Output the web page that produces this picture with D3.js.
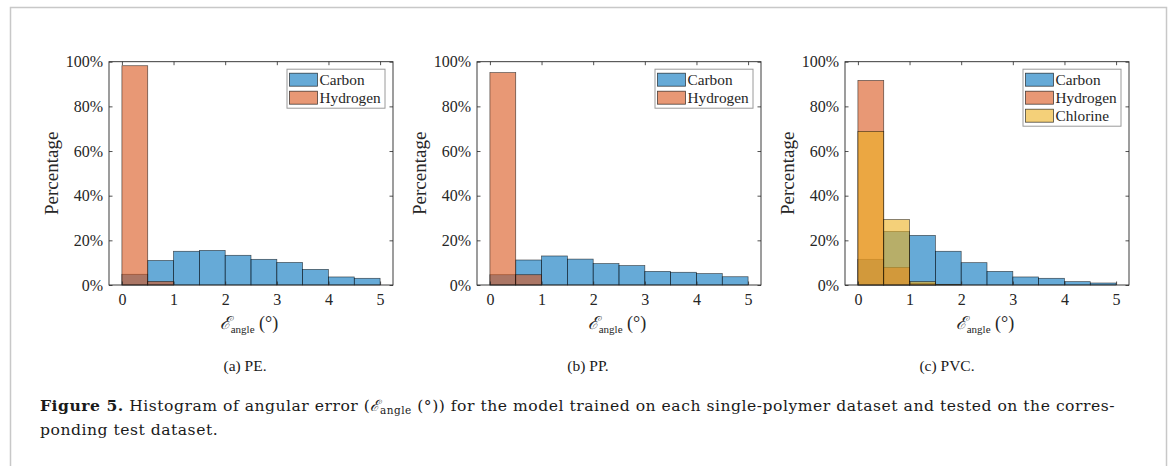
<!DOCTYPE html>
<html><head><meta charset="utf-8">
<script src="https://cdn.jsdelivr.net/npm/d3@7"></script>
<style>
html,body{margin:0;padding:0;background:#fff;}
svg{display:block;}
</style></head>
<body>
<svg id="fig" width="1170" height="466"></svg>
<script>
// ---- data ----
const binEdges = [0, 0.5, 1, 1.5, 2, 2.5, 3, 3.5, 4, 4.5, 5];
const xTicks = [0, 1, 2, 3, 4, 5];
const yTicks = [0, 20, 40, 60, 80, 100];
const yTickLabels = ["0%", "20%", "40%", "60%", "80%", "100%"];
const seriesNames = ["Carbon", "Hydrogen", "Chlorine"];
const seriesColors = ["#0072BD", "#D95319", "#EDB120"];

const peCarbon   = [4.8, 11.0, 15.1, 15.5, 13.3, 11.5, 10.1, 7.0, 3.6, 3.0];
const peHydrogen = [98.2, 1.6, 0, 0, 0, 0, 0, 0, 0, 0];
const ppCarbon   = [4.6, 11.2, 13.0, 11.6, 9.6, 8.7, 6.1, 5.7, 5.1, 3.7];
const ppHydrogen = [95.1, 4.6, 0, 0, 0, 0, 0, 0, 0, 0];
const pvcCarbon   = [11.5, 24.0, 22.2, 15.1, 10.0, 6.1, 3.6, 3.0, 1.5, 0.9];
const pvcHydrogen = [91.6, 7.8, 0.6, 0, 0, 0, 0, 0, 0, 0];
const pvcChlorine = [68.8, 29.3, 1.5, 0.3, 0, 0, 0, 0, 0, 0];

const subCaptions = ["(a) PE.", "(b) PP.", "(c) PVC."];
const panels = [
  {series: [peCarbon, peHydrogen], caption: subCaptions[0]},
  {series: [ppCarbon, ppHydrogen], caption: subCaptions[1]},
  {series: [pvcCarbon, pvcHydrogen, pvcChlorine], caption: subCaptions[2]}
];

// ---- layout ----
const svg = d3.select("#fig");
const axisColor = "#262626";
const serif = "'Liberation Serif', 'Times New Roman', serif";
const capFont = "'DejaVu Serif', serif";
const panelLeft = [109, 477, 845];
const panelW = 284, panelTop = 61.7, panelH = 223.3;
const capCenters = [245, 588, 947];

// outer frame
svg.append("rect").attr("x", 10.5).attr("y", 7.5).attr("width", 1156).attr("height", 470)
  .attr("fill", "none").attr("stroke", "#c8c8c8").attr("stroke-width", 1.5);

panels.forEach((p, pi) => {
  const g = svg.append("g").attr("transform", `translate(${panelLeft[pi]},${panelTop})`);
  const x = d3.scaleLinear().domain([-0.25, 5.25]).range([0, panelW]);
  const y = d3.scaleLinear().domain([0, 100]).range([panelH, 0]);

  // bars
  p.series.forEach((vals, si) => {
    const bins = vals.map((v, i) => ({x0: binEdges[i], x1: binEdges[i + 1], v}))
      .filter(d => d.v > 0);
    g.append("g").selectAll("rect").data(bins).join("rect")
      .attr("x", d => x(d.x0))
      .attr("y", d => y(d.v))
      .attr("width", d => x(d.x1) - x(d.x0))
      .attr("height", d => y(0) - y(d.v))
      .attr("fill", seriesColors[si])
      .attr("fill-opacity", 0.6)
      .attr("stroke", "#000")
      .attr("stroke-opacity", 0.65)
      .attr("stroke-width", 0.7);
  });

  // axes with inward ticks
  const tickLen = 3.5;
  const axB = d3.axisBottom(x).tickValues(xTicks).tickSize(-tickLen).tickPadding(9).tickFormat(d3.format("d"));
  const axT = d3.axisTop(x).tickValues(xTicks).tickSize(-tickLen).tickFormat("");
  const axL = d3.axisLeft(y).tickValues(yTicks).tickSize(-tickLen).tickPadding(6).tickFormat((d, i) => yTickLabels[i]);
  const axR = d3.axisRight(y).tickValues(yTicks).tickSize(-tickLen).tickFormat("");
  const styleAx = sel => {
    sel.attr("font-family", serif).attr("font-size", 16);
    sel.select(".domain").remove();
    sel.selectAll("line").attr("stroke", axisColor).attr("stroke-width", 0.8);
    sel.selectAll("text").attr("fill", axisColor).style("font-family", serif).style("font-size", "16px");
  };
  g.append("g").attr("transform", `translate(0,${panelH})`).call(axB).call(styleAx);
  g.append("g").call(axT).call(styleAx);
  g.append("g").call(axL).call(styleAx);
  g.append("g").attr("transform", `translate(${panelW},0)`).call(axR).call(styleAx);
  g.append("rect").attr("x", 0).attr("y", 0).attr("width", panelW).attr("height", panelH)
    .attr("fill", "none").attr("stroke", axisColor).attr("stroke-width", 0.9);

  // y label
  g.append("text").attr("transform", `translate(${-58},${panelH / 2}) rotate(-90)`)
    .attr("text-anchor", "middle").attr("dominant-baseline", "central")
    .attr("font-family", serif).attr("font-size", 19).attr("fill", axisColor)
    .text("Percentage");

  // x label
  const xl = g.append("text").attr("x", panelW / 2 - 2).attr("y", panelH + 44)
    .attr("text-anchor", "middle").attr("font-family", serif).attr("font-size", 18).attr("fill", axisColor);
  xl.append("tspan").attr("font-style", "italic").text("\u2130");
  xl.append("tspan").attr("font-size", 11).attr("dy", 4).text("angle");
  xl.append("tspan").attr("dy", -4).text(" (\u00B0)");

  // legend
  const n = p.series.length;
  const lgW = 98, rowH = 18, lgH = n * rowH + 3;
  const lg = g.append("g").attr("transform", `translate(${panelW - 8 - lgW},${7.5})`);
  lg.append("rect").attr("width", lgW).attr("height", lgH).attr("fill", "#fff")
    .attr("stroke", "#9a9a9a").attr("stroke-width", 1);
  for (let i = 0; i < n; i++) {
    const ry = 1.5 + i * rowH;
    lg.append("rect").attr("x", 2.5).attr("y", ry + 2.5).attr("width", 28).attr("height", 13)
      .attr("fill", seriesColors[i]).attr("fill-opacity", 0.6)
      .attr("stroke", "#000").attr("stroke-opacity", 0.7).attr("stroke-width", 0.8);
    lg.append("text").attr("x", 32.5).attr("y", ry + 9).attr("dominant-baseline", "central")
      .attr("font-family", serif).attr("font-size", 15.3).attr("fill", axisColor)
      .text(seriesNames[i]);
  }

  // sub caption
  svg.append("text").attr("x", capCenters[pi]).attr("y", 371)
    .attr("text-anchor", "middle").attr("font-family", serif).attr("font-size", 15.5).attr("fill", "#1a1a1a")
    .text(p.caption);
});

// caption
const capSize = 15.6;
const cap1 = svg.append("text").attr("x", 40).attr("y", 411)
  .attr("font-family", capFont).attr("font-size", capSize).attr("fill", "#1a1a1a");
cap1.append("tspan").attr("font-weight", "bold").text("Figure 5.");
cap1.append("tspan").text(" Histogram of angular error (");
cap1.append("tspan").attr("font-style", "italic").text("\u2130");
cap1.append("tspan").attr("font-size", 10.5).attr("dy", 3).text("angle");
cap1.append("tspan").attr("dy", -3).text(" (\u00B0)) for the model trained on each single-polymer dataset and tested on the corres-");
const cap2 = svg.append("text").attr("x", 40).attr("y", 435)
  .attr("font-family", capFont).attr("font-size", capSize).attr("fill", "#1a1a1a")
  .text("ponding test dataset.");
// fit line 1 to the justified width of the reference
const target = 1075;
const w = cap1.node().getComputedTextLength();
const nChars = cap1.text().length;
const ls = (target - w) / nChars;
cap1.attr("letter-spacing", ls);
cap2.attr("letter-spacing", ls);
</script>
</body></html>
